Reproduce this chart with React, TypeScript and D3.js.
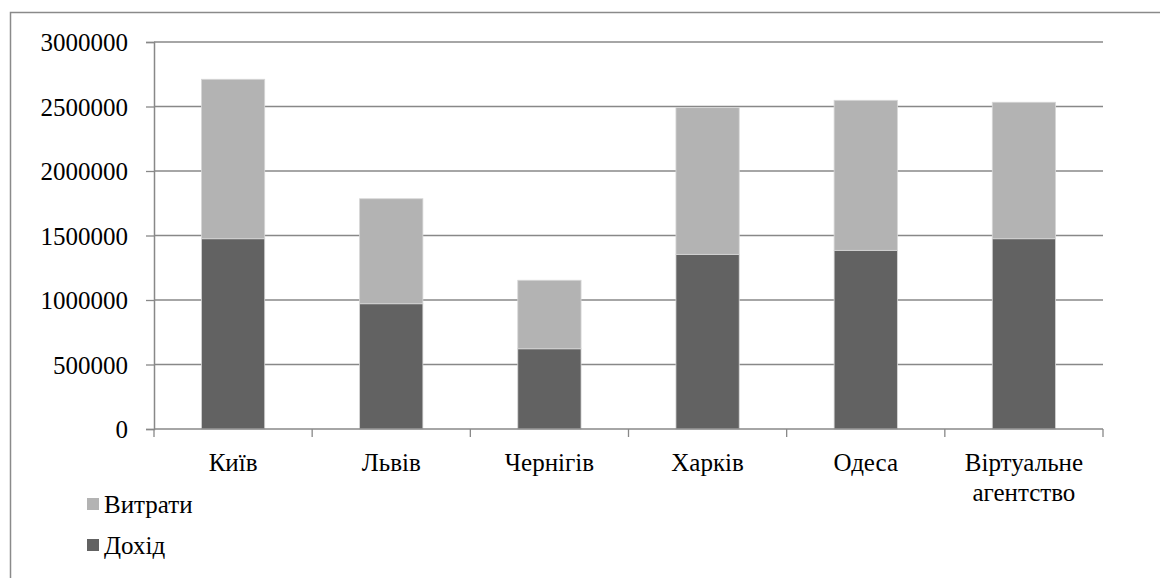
import * as d3 from 'd3';
import React, { useRef, useEffect } from 'react';

const categories = ['Київ', 'Львів', 'Чернігів', 'Харків', 'Одеса', 'Віртуальне агентство'];
const incomeValues = [1475000, 971000, 622000, 1354000, 1385000, 1475000];   // Дохід
const expenseValues = [1236000, 814000, 531000, 1137000, 1163000, 1058000];  // Витрати
const yTicks = [0, 500000, 1000000, 1500000, 2000000, 2500000, 3000000];
const seriesNames = ['Витрати', 'Дохід'];

export default function App() {
    const ref = useRef<SVGSVGElement>(null);
    const width = 1160;
    const height = 578;
    const font = "Liberation Serif";

    useEffect(() => {
        document.body.style.margin = '0';
        draw();
    }, []);

    const draw = () => {
        const svg = d3.select(ref.current);
        svg.selectAll('*').remove();

        const left = 154, right = 1103, top = 42, bottom = 429;

        const x = d3.scaleBand().domain(categories).range([left, right]).paddingInner(0.6).paddingOuter(0.3);
        const y = d3.scaleLinear().domain([0, 3000000]).range([bottom, top]);

        // outer frame (cut off by the picture edges)
        svg.append('path')
            .attr('d', `M10.5,${height + 2} L10.5,12.5 L${width + 2},12.5`)
            .attr('fill', 'none')
            .attr('stroke', '#8a8a8a')
            .attr('stroke-width', 1.5);

        // gridlines
        svg.append('g')
            .selectAll('line')
            .data(yTicks.filter(d => d > 0))
            .enter()
            .append('line')
            .attr('x1', left).attr('x2', right)
            .attr('y1', d => y(d)).attr('y2', d => y(d))
            .attr('stroke', '#888')
            .attr('stroke-width', 1.3);

        const data = categories.map((c, i) => ({ cat: c, income: incomeValues[i], expense: expenseValues[i] }));
        const stack = d3.stack<any>().keys(['income', 'expense'])(data);
        const colors = { income: '#626262', expense: '#b3b3b3' } as any;

        svg.append('g')
            .selectAll('g')
            .data(stack)
            .enter()
            .append('g')
            .attr('fill', d => colors[d.key])
            .selectAll('rect')
            .data(d => d)
            .enter()
            .append('rect')
            .attr('x', d => x(d.data.cat)!)
            .attr('width', x.bandwidth())
            .attr('y', d => y(d[1]))
            .attr('height', d => y(d[0]) - y(d[1]))
            .attr('stroke', '#d6d6d6')
            .attr('stroke-width', 0.8);

        // y axis
        const yAxis = svg.append('g')
            .attr('transform', `translate(${left},0)`)
            .call(d3.axisLeft(y).tickValues(yTicks).tickFormat(d3.format('d')).tickSize(8).tickPadding(18));
        yAxis.attr('font-family', font).attr('font-size', 25);
        yAxis.select('.domain').attr('stroke', '#888').attr('stroke-width', 1.5);
        yAxis.selectAll('.tick line').attr('stroke', '#888').attr('stroke-width', 1.3);
        yAxis.selectAll('text').attr('fill', '#000').attr('dy', '0.34em');

        // x axis line and ticks on category boundaries
        const step = x.step();
        const xg = svg.append('g');
        xg.append('line')
            .attr('x1', left).attr('x2', right).attr('y1', bottom).attr('y2', bottom)
            .attr('stroke', '#888').attr('stroke-width', 1.5);
        xg.selectAll('.xt')
            .data(d3.range(categories.length + 1))
            .enter()
            .append('line')
            .attr('x1', i => left + i * step).attr('x2', i => left + i * step)
            .attr('y1', bottom).attr('y2', bottom + 8)
            .attr('stroke', '#888').attr('stroke-width', 1.3);

        const labels = xg.selectAll('.xl')
            .data(categories)
            .enter()
            .append('text')
            .attr('x', d => x(d)! + x.bandwidth() / 2)
            .attr('y', 471)
            .attr('text-anchor', 'middle')
            .attr('font-family', font).attr('font-size', 25).attr('fill', '#000');
        labels.each(function (d) {
            const words = d.split(' ');
            const t = d3.select(this);
            words.forEach((w, i) => {
                t.append('tspan')
                    .attr('x', x(d)! + x.bandwidth() / 2)
                    .attr('dy', i === 0 ? 0 : 30)
                    .text(w);
            });
        });

        // legend
        const legend = svg.append('g')
            .selectAll('g')
            .data(seriesNames)
            .enter()
            .append('g')
            .attr('transform', (d, i) => `translate(87,${498 + i * 41})`);
        legend.append('rect')
            .attr('width', 12).attr('height', 12)
            .attr('fill', (d, i) => i === 0 ? colors.expense : colors.income);
        legend.append('text')
            .attr('x', 17).attr('y', 15)
            .attr('font-family', font).attr('font-size', 25).attr('fill', '#000')
            .text(d => d);
    };

    return (
        <div className="chart">
            <svg ref={ref} width={width} height={height} style={{ display: 'block', background: '#fff' }}>
            </svg>
        </div>
    );
}
